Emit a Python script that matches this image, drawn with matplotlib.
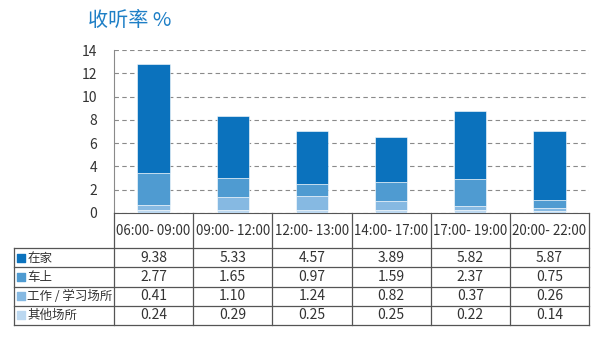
import matplotlib
matplotlib.use("Agg")
import matplotlib.pyplot as plt
import numpy as np

plt.rcParams['font.family'] = ['Noto Sans CJK SC', 'DejaVu Sans']

# 数据
periods = ["06:00- 09:00", "09:00- 12:00", "12:00- 13:00", "14:00- 17:00", "17:00- 19:00", "20:00- 22:00"]
series_names = ["在家", "车上", "工作 / 学习场所", "其他场所"]
home = [9.38, 5.33, 4.57, 3.89, 5.82, 5.87]
car = [2.77, 1.65, 0.97, 1.59, 2.37, 0.75]
work = [0.41, 1.10, 1.24, 0.82, 0.37, 0.26]
other = [0.24, 0.29, 0.25, 0.25, 0.22, 0.14]
yticks = [0, 2, 4, 6, 8, 10, 12, 14]

colors = ["#0b72bd", "#4f9bd1", "#86b9e2", "#bcd8f0"]
W, H = 600, 343

fig = plt.figure(figsize=(6, 3.43), dpi=100)

# 主图区域 (像素坐标)
left, right, bottom, top = 114, 589, 213, 50
ax = fig.add_axes([left / W, 1 - bottom / H, (right - left) / W, (bottom - top) / H])

x = np.arange(len(periods))
# 从下往上堆叠: 其他场所, 工作/学习场所, 车上, 在家
stack = [other, work, car, home]
stack_colors = [colors[3], colors[2], colors[1], colors[0]]
base = np.zeros(len(periods))
for vals, c in zip(stack, stack_colors):
    ax.bar(x, vals, width=0.41, bottom=base, color=c, edgecolor="white", linewidth=0.4, zorder=3)
    base += np.array(vals)

ax.set_xlim(-0.5, len(periods) - 0.5)
ax.set_ylim(0, 14)
ax.set_yticks(yticks)
ax.set_xticks([])
ax.tick_params(axis='y', length=0, pad=12, labelsize=10, labelcolor="#333333")
ax.yaxis.grid(True, linestyle=(0, (4, 3)), color="#8a8a8a", linewidth=0.8, zorder=0)
for s in ["top", "right"]:
    ax.spines[s].set_visible(False)
ax.spines["left"].set_color("#8a8a8a")
ax.spines["bottom"].set_color("#555555")

fig.text(88 / W, 1 - 21 / H, "收听率 %", fontsize=14.5, color="#1e7fc6", va="center", ha="left")

# 表格区域
t_left, t_bottom = 14, 325
col_w = (right - left) / len(periods)
tax = fig.add_axes([t_left / W, 1 - t_bottom / H, (right - t_left) / W, (t_bottom - bottom) / H])
tax.set_xlim(-0.5 - (left - t_left) / col_w, len(periods) - 0.5)
tax.set_ylim(t_bottom - bottom, 0)
tax.axis("off")

line_c = "#555555"
header_h = 35
row_h = (t_bottom - bottom - header_h) / 4
x0 = -0.5 - (left - t_left) / col_w

# 竖线
for i in range(len(periods) + 1):
    tax.plot([i - 0.5, i - 0.5], [0, t_bottom - bottom], color=line_c, lw=0.9, clip_on=False)
tax.plot([x0, x0], [header_h, t_bottom - bottom], color=line_c, lw=0.9, clip_on=False)
# 横线
for r in range(5):
    yy = header_h + r * row_h
    tax.plot([x0, len(periods) - 0.5], [yy, yy], color=line_c, lw=0.9, clip_on=False)

# 表头
for i, p in enumerate(periods):
    tax.text(i, 18, p, ha="center", va="center", fontsize=9.6, color="#333333")

# 数据行
table_rows = [home, car, work, other]
for r, (name, vals) in enumerate(zip(series_names, table_rows)):
    yc = header_h + (r + 0.5) * row_h
    tax.scatter([x0 + 0.085], [yc], marker="s", s=28, color=colors[r], clip_on=False)
    tax.text(x0 + 0.17, yc + 0.5, name, ha="left", va="center", fontsize=9, color="#333333")
    for i, v in enumerate(vals):
        tax.text(i, yc, f"{v:.2f}", ha="center", va="center", fontsize=10, color="#333333")

fig.savefig("out.png", dpi=100)
